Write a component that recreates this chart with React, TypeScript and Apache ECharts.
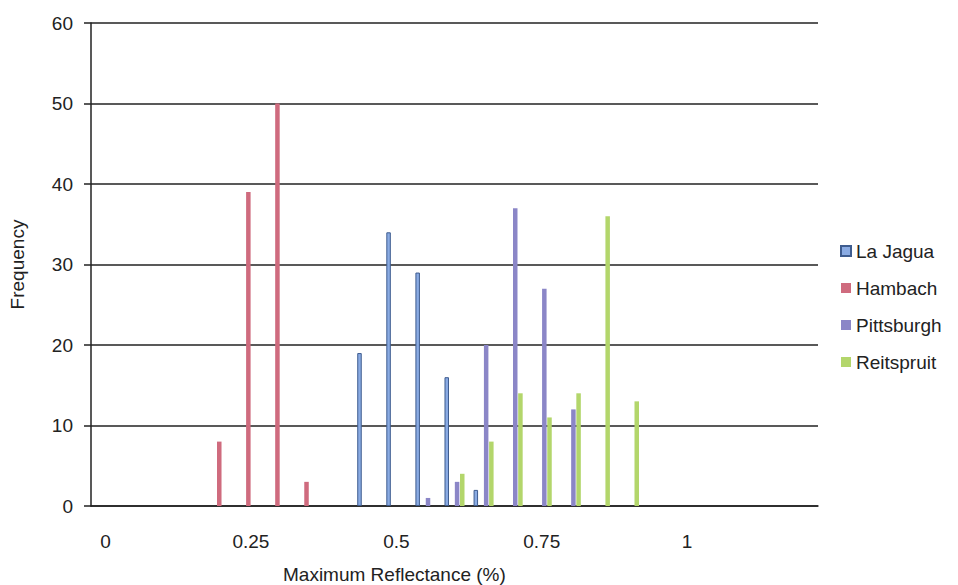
import React, { useEffect, useRef } from "react";
import * as echarts from "echarts";

const categories = [
  "0", "0.05", "0.1", "0.15", "0.2", "0.25", "0.3", "0.35", "0.4", "0.45",
  "0.5", "0.55", "0.6", "0.65", "0.7", "0.75", "0.8", "0.85", "0.9", "0.95",
  "1", "1.05", "1.1", "1.15", "1.2",
];
const shownTicks = ["0", "0.25", "0.5", "0.75", "1"];

const laJagua = [0, 0, 0, 0, 0, 0, 0, 0, 0, 19, 34, 29, 16, 2, 0, 0, 0, 0, 0, 0, 0, 0, 0, 0, 0];
const hambach = [0, 0, 0, 0, 8, 39, 50, 3, 0, 0, 0, 0, 0, 0, 0, 0, 0, 0, 0, 0, 0, 0, 0, 0, 0];
const pittsburgh = [0, 0, 0, 0, 0, 0, 0, 0, 0, 0, 0, 1, 3, 20, 37, 27, 12, 0, 0, 0, 0, 0, 0, 0, 0];
const reitspruit = [0, 0, 0, 0, 0, 0, 0, 0, 0, 0, 0, 0, 4, 8, 14, 11, 14, 36, 13, 0, 0, 0, 0, 0, 0];

const FONT = "Liberation Sans, Arial, sans-serif";

export default function App() {
  const ref = useRef<HTMLDivElement>(null);
  useEffect(() => {
    if (!ref.current) return;
    const chart = echarts.init(ref.current, undefined, { renderer: "svg" });
    const bar = (name: string, data: number[], color: string, border?: string) => ({
      name,
      type: "bar",
      data: data.map((v) => (v === 0 ? null : v)),
      barWidth: 4.5,
      barGap: "15%",
      itemStyle: border
        ? { color, borderColor: border, borderWidth: 1 }
        : { color },
    });
    chart.setOption({
      animation: false,
      backgroundColor: "#ffffff",
      textStyle: { fontFamily: FONT },
      grid: { left: 91, right: 140, top: 23, bottom: 79, containLabel: false },
      legend: {
        orient: "vertical",
        left: 835,
        top: 236,
        itemWidth: 10,
        itemHeight: 10,
        itemGap: 17,
        icon: "rect",
        textStyle: { fontSize: 19, color: "#222", fontFamily: FONT, lineHeight: 20 },
        data: ["La Jagua", "Hambach", "Pittsburgh", "Reitspruit"],
      },
      xAxis: {
        type: "category",
        data: categories,
        boundaryGap: true,
        axisLine: { show: true, lineStyle: { color: "#222", width: 1.5 } },
        axisTick: { show: false },
        axisLabel: {
          interval: 0,
          margin: 26,
          fontSize: 19,
          color: "#222",
          fontFamily: FONT,
          formatter: (v: string) => (shownTicks.includes(v) ? v : ""),
        },
        splitLine: { show: false },
      },
      yAxis: {
        type: "value",
        min: 0,
        max: 60,
        interval: 10,
        name: "Frequency",
        nameLocation: "middle",
        nameGap: 64,
        nameTextStyle: { fontSize: 19, color: "#222", fontFamily: FONT },
        axisLine: { show: true, lineStyle: { color: "#222", width: 1.5 } },
        axisTick: { show: true, length: 7, lineStyle: { color: "#222", width: 1.5 } },
        axisLabel: { margin: 18, fontSize: 19, color: "#222", fontFamily: FONT },
        splitLine: { show: true, lineStyle: { color: "#222", width: 1.5 } },
      },
      graphic: [
        {
          type: "text",
          left: 283,
          top: 565,
          style: {
            text: "Maximum Reflectance (%)",
            fontSize: 19,
            fill: "#222",
            fontFamily: FONT,
          },
        },
      ],
      series: [
        bar("La Jagua", laJagua, "#8aabe3", "#3e5c8f"),
        bar("Hambach", hambach, "#cf6b7e"),
        bar("Pittsburgh", pittsburgh, "#8b86c7"),
        bar("Reitspruit", reitspruit, "#b3d66b"),
      ],
    });
    return () => chart.dispose();
  }, []);
  return <div ref={ref} style={{ width: 958, height: 585, position: "absolute", left: 0, top: 0 }} />;
}
